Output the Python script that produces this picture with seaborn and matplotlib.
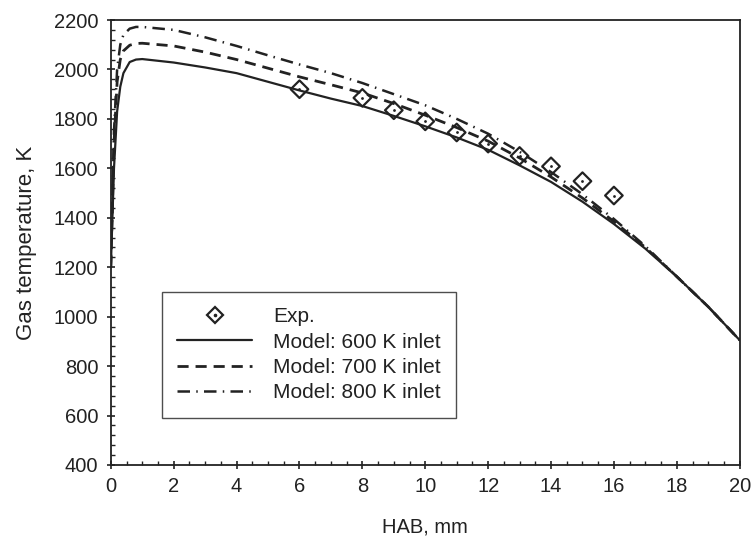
import numpy as np
import pandas as pd
import matplotlib
matplotlib.use("Agg")
import matplotlib.pyplot as plt
from matplotlib.lines import Line2D
from matplotlib.ticker import MultipleLocator
import seaborn as sns

# ---- data ----
hab_exp = [6, 8, 9, 10, 11, 12, 13, 14, 15, 16]
t_exp = [1920, 1885, 1835, 1790, 1745, 1700, 1650, 1608, 1548, 1490]

hab_model = [0, 0.1, 0.2, 0.3, 0.4, 0.6, 0.8, 1, 2, 3, 4, 5, 6, 7, 8, 9, 10,
             11, 12, 13, 14, 15, 16, 17, 18, 19, 20]
t_600 = [1200, 1600, 1830, 1930, 1985, 2030, 2040, 2042, 2028, 2008, 1985, 1950,
         1915, 1882, 1852, 1812, 1770, 1725, 1675, 1612, 1545, 1465, 1375, 1275,
         1162, 1040, 905]
t_700 = [1200, 1700, 1950, 2040, 2075, 2098, 2105, 2106, 2095, 2070, 2040, 2005,
         1970, 1938, 1905, 1862, 1815, 1765, 1710, 1642, 1565, 1480, 1385, 1280,
         1162, 1040, 905]
t_800 = [1200, 1750, 2000, 2100, 2140, 2165, 2172, 2172, 2160, 2130, 2095, 2057,
         2020, 1985, 1945, 1900, 1855, 1800, 1740, 1667, 1585, 1495, 1395, 1285,
         1162, 1040, 905]

labels = ["Exp.", "Model: 600 K inlet", "Model: 700 K inlet", "Model: 800 K inlet"]

# ---- plot ----
sns.set_theme(style="white")
plt.rcParams['font.family'] = ['Liberation Sans', 'DejaVu Sans']
ink = "#222222"

fig = plt.figure(figsize=(7.54, 5.48), dpi=100)
ax = fig.add_axes([0.147, 0.1515, 0.834, 0.812])

df = pd.DataFrame({"HAB": hab_model, "T600": t_600, "T700": t_700, "T800": t_800})
sns.lineplot(data=df, x="HAB", y="T600", ax=ax, color=ink, lw=1.6,
             sort=False, estimator=None)
sns.lineplot(data=df, x="HAB", y="T700", ax=ax, color=ink, lw=2.0,
             sort=False, estimator=None, linestyle=(0, (4, 2.5)))
sns.lineplot(data=df, x="HAB", y="T800", ax=ax, color=ink, lw=1.8,
             sort=False, estimator=None, linestyle=(0, (5, 2.5, 0.6, 2.5)))

dfe = pd.DataFrame({"HAB": hab_exp, "T": t_exp})
sns.scatterplot(data=dfe, x="HAB", y="T", ax=ax, marker="D", s=80,
                facecolor="none", edgecolor=ink, linewidth=1.6, zorder=5)
sns.scatterplot(data=dfe, x="HAB", y="T", ax=ax, marker="o", s=4,
                color=ink, linewidth=0, zorder=6)

ax.set_xlim(0, 20)
ax.set_ylim(400, 2200)
ax.xaxis.set_major_locator(MultipleLocator(2))
ax.xaxis.set_minor_locator(MultipleLocator(0.5))
ax.yaxis.set_major_locator(MultipleLocator(200))
ax.yaxis.set_minor_locator(MultipleLocator(40))
ax.tick_params(which="major", direction="inout", length=6, width=1.2,
               color=ink, labelsize=14.5, labelcolor=ink,
               bottom=True, left=True, top=False, right=False, pad=6)
ax.tick_params(which="minor", direction="in", length=3, width=1,
               color=ink, bottom=True, left=True, top=False, right=False)
for sp in ax.spines.values():
    sp.set_color(ink)
    sp.set_linewidth(1.3)

ax.set_xlabel("HAB, mm", fontsize=14.5, color=ink, labelpad=15)
ax.set_ylabel("Gas temperature, K", fontsize=16, color=ink, labelpad=12)

h_exp = (Line2D([], [], marker="D", ls="none", mfc="none", mec=ink,
                ms=8, mew=1.6),
         Line2D([], [], marker="o", ls="none", color=ink, ms=1.6))
h600 = Line2D([], [], color=ink, lw=1.6)
h700 = Line2D([], [], color=ink, lw=2.0, ls=(0, (4, 2.5)))
h800 = Line2D([], [], color=ink, lw=1.8, ls=(0, (5, 2.5, 0.6, 2.5)))
leg = ax.legend([h_exp, h600, h700, h800], labels, loc="lower left",
                bbox_to_anchor=(0.081, 0.106), borderaxespad=0,
                fontsize=15, frameon=True, fancybox=False, handlelength=3.6,
                handletextpad=1.0, labelspacing=0.3, borderpad=0.75)
leg.get_frame().set_edgecolor(ink)
leg.get_frame().set_linewidth(1.0)
for t in leg.get_texts():
    t.set_color(ink)

fig.savefig("out.png", dpi=100, facecolor="white")
